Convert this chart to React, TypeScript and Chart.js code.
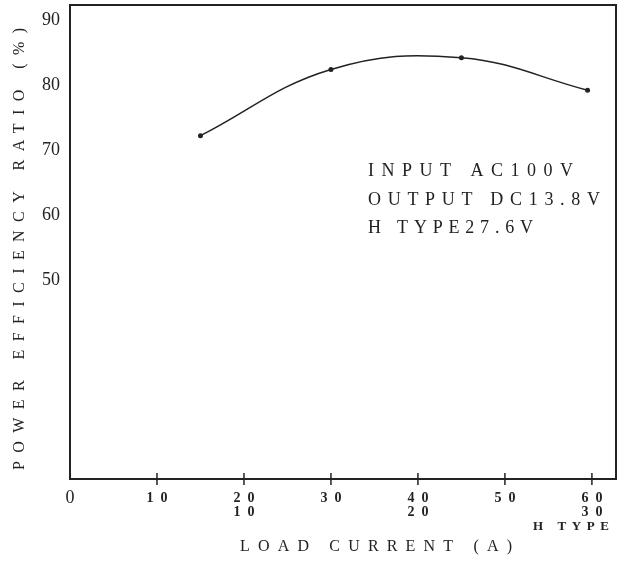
import React, { useEffect, useRef } from "react";
import { Chart, registerables } from "chart.js";

Chart.register(...registerables);

// ---- data ----
const LOAD_CURRENT = [15, 30, 45, 59.5];
const EFFICIENCY = [72.2, 82.4, 84.2, 79.2];

const X_TICKS = [0, 10, 20, 30, 40, 50, 60];
const H_TYPE_AT = [20, 40, 60];
const H_TYPE_VALUES = [10, 20, 30];
const H_TYPE_NOTE = "H TYPE";

const Y_TICKS = [50, 60, 70, 80, 90];

const X_TITLE = "LOAD CURRENT (A)";
const Y_TITLE = "POWER EFFICIENCY RATIO (%)";
const NOTE_LINES = ["INPUT AC100V", "OUTPUT DC13.8V", "H TYPE27.6V"];

// ---- styling ----
const INK = "#222";
const SERIF = "'Liberation Serif', 'DejaVu Serif', serif";
const X_TICK_SPACING = 7;

function drawSpaced(ctx: CanvasRenderingContext2D, text: string, x: number, y: number, target: number) {
  (ctx as any).letterSpacing = "0px";
  const w0 = ctx.measureText(text).width;
  const n = Array.from(text).length;
  const s = n > 1 ? Math.max(0, (target - w0) / (n - 1)) : 0;
  (ctx as any).letterSpacing = s + "px";
  ctx.textAlign = "left";
  ctx.fillText(text, x, y);
  (ctx as any).letterSpacing = "0px";
}

const paperPlugin = {
  id: "paper",
  beforeDraw(chart: any) {
    chart.ctx.letterSpacing = "0px";
  },
  afterDatasetsDraw(chart: any) {
    chart.ctx.letterSpacing = X_TICK_SPACING + "px";
  },
  afterDraw(chart: any) {
    const { ctx, chartArea: a, scales } = chart;
    ctx.save();
    ctx.letterSpacing = "0px";
    // frame
    ctx.strokeStyle = INK;
    ctx.lineWidth = 2;
    ctx.strokeRect(a.left, a.top, a.right - a.left, a.bottom - a.top);
    // x tick marks crossing the axis
    ctx.lineWidth = 1.5;
    X_TICKS.slice(1).forEach((v) => {
      const px = scales.x.getPixelForValue(v);
      ctx.beginPath();
      ctx.moveTo(px, a.bottom - 6);
      ctx.lineTo(px, a.bottom + 6);
      ctx.stroke();
    });
    ctx.fillStyle = INK;
    ctx.textBaseline = "middle";
    // H TYPE note under the second tick row
    ctx.font = `bold 13px ${SERIF}`;
    drawSpaced(ctx, H_TYPE_NOTE, a.left + 463, a.bottom + 48, 76);
    // x title
    ctx.font = `16px ${SERIF}`;
    drawSpaced(ctx, X_TITLE, a.left + 170, a.bottom + 68, 272);
    // y title
    ctx.save();
    ctx.translate(20, (a.top + a.bottom) / 2 + 7);
    ctx.rotate(-Math.PI / 2);
    drawSpaced(ctx, Y_TITLE, -221, 0, 442);
    ctx.restore();
    // annotation
    ctx.font = `18px ${SERIF}`;
    const nx = a.left + 298;
    const widths = [205, 232, 165];
    const ys = [171, 200, 228];
    NOTE_LINES.forEach((t, i) => drawSpaced(ctx, t, nx, ys[i], widths[i]));
    ctx.restore();
  },
};

export default function App() {
  const ref = useRef<HTMLCanvasElement>(null);
  useEffect(() => {
    document.body.style.margin = "0";
    document.body.style.background = "#fff";
    const canvas = ref.current!;
    const chart = new Chart(canvas, {
      type: "line",
      data: {
        datasets: [
          {
            data: LOAD_CURRENT.map((x, i) => ({ x, y: EFFICIENCY[i] })),
            borderColor: INK,
            borderWidth: 1.5,
            tension: 0.4,
            pointRadius: 2.5,
            pointBackgroundColor: INK,
            pointBorderWidth: 0,
            fill: false,
          },
        ],
      },
      options: {
        animation: false,
        responsive: false,
        devicePixelRatio: 1,
        layout: { padding: { top: 5, right: 9, left: 0, bottom: 0 } },
        plugins: { legend: { display: false }, tooltip: { enabled: false } },
        scales: {
          x: {
            type: "linear",
            position: "bottom",
            min: 0,
            max: 62.77,
            afterBuildTicks: (s: any) => {
              s.ticks = X_TICKS.map((v) => ({ value: v }));
            },
            afterFit: (s: any) => {
              s.height = 83;
              s.paddingLeft = 0;
              s.paddingRight = 0;
            },
            grid: { drawOnChartArea: false, drawTicks: false },
            border: { color: INK, width: 2 },
            ticks: {
              z: 1,
              autoSkip: false,
              maxRotation: 0,
              minRotation: 0,
              padding: 11.75,
              labelOffset: X_TICK_SPACING / 2,
              color: INK,
              font: (c: any) =>
                c.index === 0
                  ? { family: SERIF, size: 18, lineHeight: "14.5px" }
                  : { family: SERIF, size: 14, weight: "bold", lineHeight: "14.5px" },
              callback: (value: any) => {
                const k = H_TYPE_AT.indexOf(value);
                return k >= 0 ? [String(value), String(H_TYPE_VALUES[k])] : [String(value)];
              },
            },
          },
          y: {
            type: "linear",
            min: 19.38,
            max: 92.31,
            afterBuildTicks: (s: any) => {
              s.ticks = Y_TICKS.map((v) => ({ value: v }));
            },
            afterFit: (s: any) => {
              s.width = 70;
              s.paddingTop = 0;
              s.paddingBottom = 0;
            },
            grid: { drawOnChartArea: false, drawTicks: false },
            border: { color: INK, width: 2 },
            ticks: {
              padding: 10,
              color: INK,
              font: { family: SERIF, size: 18 },
              callback: (value: any) => String(value),
            },
          },
        },
      },
      plugins: [paperPlugin],
    } as any);
    return () => chart.destroy();
  }, []);
  return (
    <div style={{ width: 625, height: 562 }}>
      <canvas ref={ref} width={625} height={562} style={{ display: "block" }} />
    </div>
  );
}
